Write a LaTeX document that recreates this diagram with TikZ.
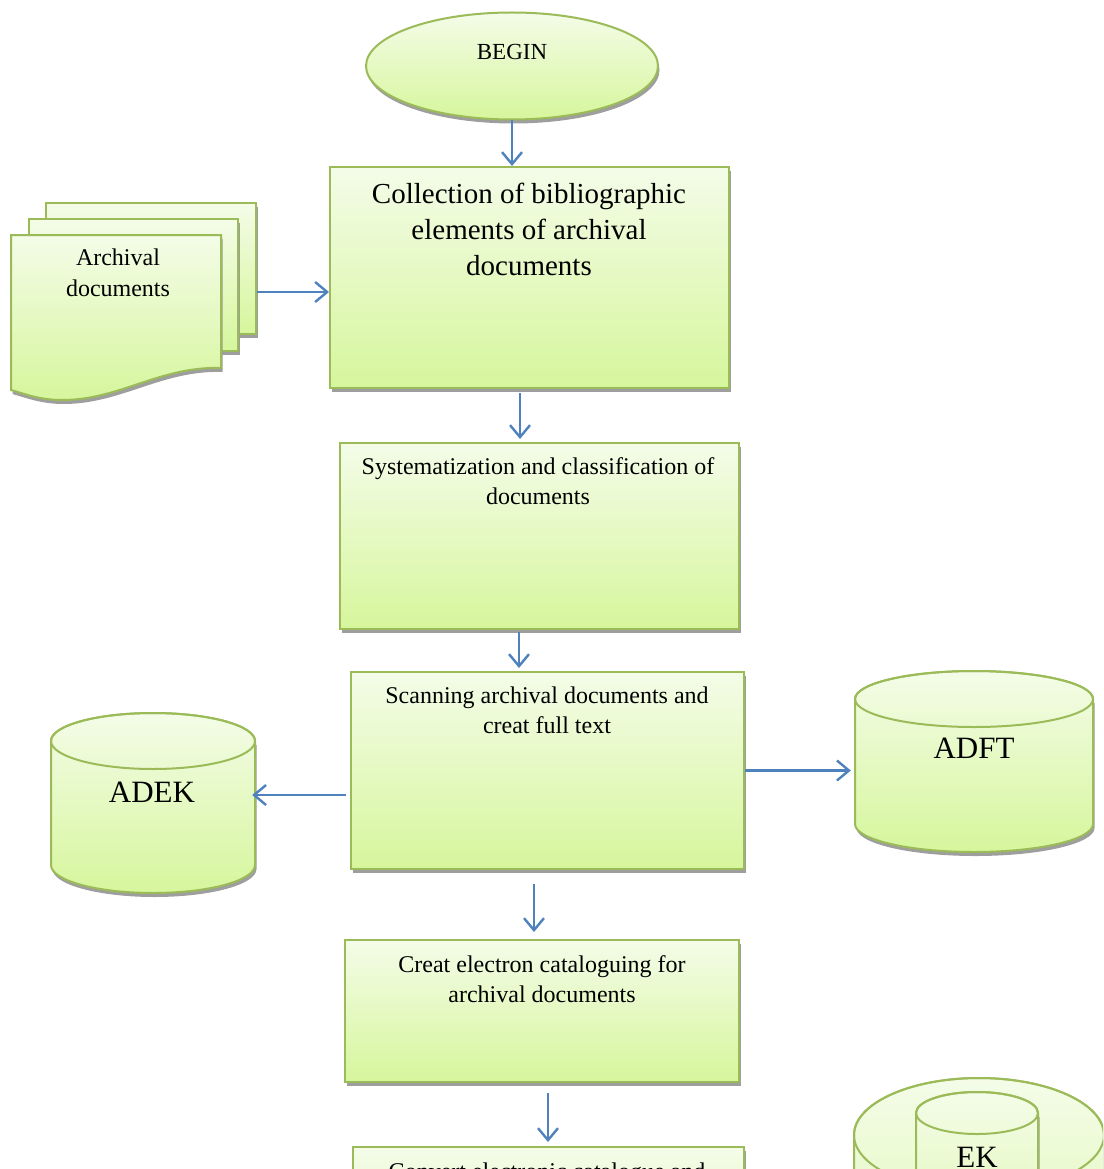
\documentclass[tikz,border=0pt]{standalone}
\usepackage{fontspec}
\setmainfont{Liberation Serif}
\usetikzlibrary{arrows.meta,shapes.geometric,shadows}

\definecolor{edgegreen}{RGB}{155,187,89}
\definecolor{flowblue}{RGB}{79,129,189}
\definecolor{filltop}{RGB}{244,252,232}
\definecolor{fillbot}{RGB}{214,246,156}
\definecolor{shadegray}{RGB}{158,158,158}

\tikzset{
  greenfill/.style={top color=filltop,bottom color=fillbot},
  edge/.style={draw=edgegreen,line width=2pt},
  sdw/.style={drop shadow={shadow xshift=1.5pt,shadow yshift=-4pt,fill=shadegray,opacity=1}},
  procbox/.style={rectangle,edge,greenfill,sdw,inner sep=0pt,anchor=north west},
  flow/.style={draw=flowblue,line width=2.4pt,-{Straight Barb[length=12pt,width=20pt]}},
  smalltxt/.style={font=\fontsize{24}{30}\selectfont,align=center,anchor=north,inner sep=0pt},
  bigtxt/.style={font=\fontsize{29}{36}\selectfont,align=center,anchor=north,inner sep=0pt},
  dbtxt/.style={font=\fontsize{31}{36}\selectfont,anchor=north,inner sep=0pt},
  hold/.style={rectangle,inner sep=0pt,draw=none},
}

% database cylinder: centre x, x radius, y radius, top ellipse y, bottom ellipse y
\newcommand\dbcylinder[5]{%
  \fill[shadegray] ({#1-#2+1.5},{#4+4}) -- ({#1-#2+1.5},{#5+4})
    arc[start angle=180,end angle=0,x radius=#2,y radius=#3] -- ({#1+#2+1.5},{#4+4}) -- cycle;
  \path[greenfill,edge] ({#1-#2},#4) -- ({#1-#2},#5)
    arc[start angle=180,end angle=0,x radius=#2,y radius=#3] -- ({#1+#2},#4)
    arc[start angle=0,end angle=-180,x radius=#2,y radius=#3] -- cycle;
  \draw[edge] (#1,#4) ellipse[x radius=#2,y radius=#3];
}

\begin{document}
\begin{tikzpicture}[x=1pt,y=-1pt]
\useasboundingbox (0,0) rectangle (1103,1169);
\clip (0,0) rectangle (1103,1169);

% start
\node[ellipse,edge,greenfill,sdw,minimum width=292pt,minimum height=107pt,inner sep=0pt] (begin) at (512,66) {};
\node[smalltxt,font=\fontsize{23}{28}\selectfont] (beginlbl) at (512,44) {BEGIN};

% stack of archival documents
\node[procbox,minimum width=210pt,minimum height=131pt] (docsback) at (45,202) {};
\node[procbox,minimum width=209pt,minimum height=132pt] (docsmid) at (28,218) {};
\fill[shadegray] (12.5,239) -- (222.5,239) -- (222.5,372)
  .. controls (161.5,370) and (121.5,404) .. (63.5,404)
  .. controls (41.5,404) and (26.5,398) .. (12.5,394) -- cycle;
\path[greenfill,edge] (11,235) -- (221,235) -- (221,368)
  .. controls (160,366) and (120,400) .. (62,400)
  .. controls (40,400) and (25,394) .. (11,390) -- cycle;
\node[smalltxt,font=\fontsize{24}{31}\selectfont] (docslbl) at (118,249) {Archival\\documents};

% process steps
\node[procbox,minimum width=399pt,minimum height=221pt] (b1) at (329,166) {};
\node[bigtxt] (b1lbl) at (529,183) {Collection of bibliographic\\elements of archival\\documents};

\node[procbox,minimum width=399pt,minimum height=186pt] (b2) at (339,442) {};
\node[smalltxt] (b2lbl) at (538,457) {Systematization and classification of\\documents};

\node[procbox,minimum width=393pt,minimum height=197pt] (b3) at (350,671) {};
\node[smalltxt] (b3lbl) at (547,687) {Scanning archival documents and\\creat full text};

\node[procbox,minimum width=394pt,minimum height=142pt] (b4) at (344,939) {};
\node[smalltxt] (b4lbl) at (542,955) {Creat electron cataloguing for\\archival documents};

\node[procbox,minimum width=391pt,minimum height=200pt] (b5) at (352,1146) {};
\node[smalltxt] (b5lbl) at (547,1163) {Convert electronic catalogue and};

% databases
\dbcylinder{153}{102}{28}{741}{865}
\node[hold,minimum width=204pt,minimum height=180pt] (adek) at (153,803) {};
\node[dbtxt] (adeklbl) at (152,782) {ADEK};

\dbcylinder{974}{119}{28}{699}{824}
\node[hold,minimum width=238pt,minimum height=181pt] (adft) at (974,761.5) {};
\node[dbtxt] (adftlbl) at (974,738) {ADFT};

\dbcylinder{979}{125}{57}{1135}{1330}
\dbcylinder{977}{61}{21}{1113}{1300}
\node[dbtxt] (eklbl) at (977,1147) {EK};

% connectors
\draw[flow] (begin.south) -- (begin.south |- b1.north);
\draw[flow] ([yshift=-23.5pt]docsback.east) -- ([yshift=-14.5pt]b1.west);
\draw[flow] ([xshift=-9.5pt,yshift=-4pt]b1.south) -- ([xshift=-19.5pt,yshift=3pt]b2.north);
\draw[flow] ([xshift=-20.5pt,yshift=-2pt]b2.south) -- ([xshift=-28.5pt,yshift=3pt]b3.north);
\coordinate (toadek) at ([xshift=-4pt,yshift=-24.5pt]b3.west);
\draw[flow,shorten >=-3pt] (toadek) -- (toadek -| adek.east);
\draw[flow,shorten >=4pt] (b3.east) -- (b3.east -| adft.west);
\draw[flow] ([xshift=-13.5pt,yshift=-14pt]b3.south) -- ([xshift=-8pt,yshift=7pt]b4.north);
\draw[flow] ([xshift=6pt,yshift=-10pt]b4.south) -- ([xshift=-0.5pt,yshift=4pt]b5.north);
\end{tikzpicture}
\end{document}
